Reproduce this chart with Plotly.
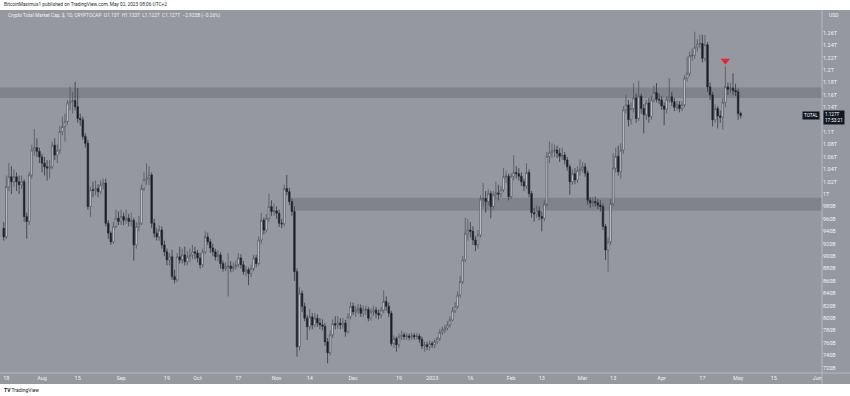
import plotly.graph_objects as go
import pandas as pd

# ---------------- data (values in billions USD) ----------------
start_date = "2022-07-17"
first_open = 945

closes = [
    931, 1012, 1028, 1020, 1028, 1020, 1015, 1020, 964, 956,
    1031, 1071, 1075, 1069, 1060, 1050, 1044, 1042, 1044, 1079,
    1063, 1071, 1101, 1109, 1117, 1147, 1149, 1151, 1141, 1122,
    1120, 1093, 1082, 980, 1007, 1006, 1009, 1004, 1015, 1018,
    953, 937, 923, 948, 961, 956, 964, 958, 961, 956,
    958, 918, 948, 953, 1009, 1023, 1026, 1031, 953, 937,
    931, 942, 918, 907, 894, 899, 867, 862, 899, 894,
    902, 891, 899, 902, 907, 905, 897, 886, 907, 931,
    923, 913, 907, 899, 902, 888, 880, 883, 884, 880,
    883, 886, 897, 886, 875, 878, 872, 880, 897, 888,
    926, 958, 942, 961, 980, 972, 973, 969, 953, 952,
    1009, 1004, 988, 972, 875, 754, 840, 819, 800, 786,
    802, 789, 800, 792, 789, 787, 762, 744, 773, 791,
    789, 792, 789, 792, 778, 802, 819, 810, 813, 816,
    808, 813, 814, 800, 810, 813, 808, 805, 813, 827,
    819, 808, 759, 767, 757, 770, 773, 770, 771, 769,
    772, 770, 771, 766, 755, 757, 754, 759, 757, 762,
    767, 777, 781, 784, 789, 797, 812, 819, 837, 859,
    894, 937, 942, 940, 926, 918, 934, 992, 993, 988,
    1001, 980, 999, 1002, 1000, 1007, 1028, 1029, 996, 1029,
    1035, 1033, 1029, 1020, 1013, 1035, 1001, 970, 968, 973,
    964, 961, 984, 1061, 1067, 1070, 1071, 1066, 1061, 1063,
    1055, 1044, 1020, 1033, 1023, 1038, 1040, 1044, 1034, 990,
    986, 988, 986, 982, 980, 948, 910, 923, 985, 1042,
    1061, 1036, 1071, 1136, 1144, 1120, 1138, 1155, 1122, 1158,
    1138, 1128, 1147, 1125, 1152, 1164, 1153, 1152, 1142, 1137,
    1153, 1157, 1149, 1140, 1144, 1138, 1144, 1187, 1195, 1223,
    1224, 1237, 1242, 1243, 1219, 1241, 1173, 1160, 1120, 1138,
    1126, 1124, 1148, 1173, 1169, 1171, 1167, 1165, 1130, 1127,
]

highs = [
    955, 1030, 1050, 1045, 1040, 1035, 1030, 1030, 1024, 970,
    1036, 1080, 1105, 1090, 1075, 1065, 1060, 1055, 1055, 1085,
    1090, 1080, 1110, 1125, 1130, 1152, 1173, 1165, 1181, 1171,
    1130, 1125, 1098, 1088, 1012, 1020, 1022, 1016, 1022, 1025,
    1025, 958, 940, 955, 975, 972, 975, 970, 975, 968,
    970, 962, 955, 965, 1015, 1035, 1050, 1045, 1035, 960,
    945, 950, 948, 925, 912, 905, 910, 878, 905, 915,
    912, 915, 908, 912, 918, 915, 910, 905, 912, 940,
    938, 928, 920, 912, 910, 906, 893, 890, 905, 892,
    890, 893, 905, 903, 892, 884, 882, 886, 902, 902,
    932, 970, 962, 968, 1001, 990, 985, 980, 975, 960,
    1015, 1031, 1010, 993, 980, 880, 850, 845, 825, 805,
    815, 808, 808, 806, 800, 798, 792, 768, 780, 798,
    803, 803, 800, 800, 797, 808, 826, 825, 820, 823,
    822, 820, 820, 818, 816, 820, 818, 814, 818, 845,
    835, 825, 812, 772, 770, 775, 780, 777, 776, 775,
    777, 776, 776, 775, 770, 762, 762, 764, 763, 766,
    770, 782, 786, 789, 795, 803, 818, 826, 843, 868,
    900, 962, 960, 955, 948, 932, 942, 998, 1018, 1005,
    1008, 1005, 1005, 1020, 1015, 1013, 1042, 1038, 1033, 1034,
    1063, 1045, 1042, 1035, 1025, 1050, 1040, 1005, 978, 982,
    980, 972, 990, 1068, 1085, 1082, 1080, 1078, 1074, 1075,
    1068, 1060, 1048, 1040, 1042, 1045, 1056, 1052, 1050, 1038,
    995, 995, 996, 992, 990, 985, 952, 930, 992, 1066,
    1075, 1078, 1082, 1142, 1160, 1152, 1148, 1179, 1162, 1183,
    1162, 1145, 1152, 1155, 1158, 1175, 1179, 1162, 1158, 1148,
    1158, 1187, 1165, 1155, 1150, 1150, 1150, 1192, 1222, 1230,
    1235, 1262, 1250, 1257, 1257, 1257, 1245, 1180, 1165, 1145,
    1142, 1135, 1155, 1206, 1180, 1180, 1195, 1178, 1170, 1133,
]

lows = [
    925, 928, 1005, 1000, 1012, 1005, 1000, 1008, 955, 928,
    950, 1025, 1062, 1060, 1050, 1035, 1030, 1022, 1025, 1040,
    1055, 1050, 1065, 1095, 1085, 1112, 1135, 1130, 1135, 1115,
    1110, 1088, 1075, 975, 963, 995, 998, 995, 1000, 1008,
    948, 928, 918, 920, 945, 950, 950, 950, 952, 948,
    948, 893, 912, 940, 950, 1005, 1015, 1015, 945, 930,
    925, 925, 912, 900, 885, 885, 862, 856, 858, 888,
    888, 885, 885, 890, 895, 895, 890, 880, 882, 903,
    918, 905, 900, 893, 892, 880, 875, 876, 835, 874,
    875, 878, 882, 880, 870, 868, 853, 866, 876, 882,
    885, 920, 935, 938, 955, 965, 965, 960, 947, 945,
    948, 998, 982, 965, 860, 738, 748, 810, 795, 765,
    780, 782, 785, 786, 782, 780, 755, 727, 740, 768,
    782, 783, 782, 783, 770, 775, 798, 805, 802, 806,
    802, 802, 805, 795, 796, 804, 800, 798, 800, 808,
    812, 802, 755, 752, 746, 752, 765, 765, 765, 764,
    765, 765, 766, 760, 750, 746, 748, 748, 752, 752,
    758, 763, 773, 776, 780, 785, 795, 808, 815, 833,
    855, 890, 925, 930, 918, 908, 912, 930, 980, 970,
    982, 961, 975, 992, 990, 995, 1003, 1018, 990, 992,
    1022, 1025, 1022, 1013, 1005, 1008, 995, 962, 956, 962,
    958, 940, 956, 980, 1050, 1058, 1060, 1058, 1052, 1055,
    1048, 1038, 999, 1015, 1016, 1018, 1030, 1035, 1028, 983,
    978, 980, 980, 976, 972, 942, 894, 875, 918, 980,
    1035, 1030, 1025, 1065, 1130, 1109, 1112, 1132, 1115, 1118,
    1130, 1098, 1120, 1115, 1120, 1148, 1148, 1145, 1136, 1111,
    1130, 1148, 1142, 1134, 1135, 1132, 1134, 1140, 1182, 1190,
    1215, 1218, 1230, 1235, 1212, 1214, 1165, 1152, 1109, 1115,
    1106, 1115, 1104, 1140, 1160, 1163, 1160, 1158, 1120, 1122,
]

# daily crypto candles open at the previous close
opens = [first_open] + closes[:-1]
dates = pd.date_range(start_date, periods=len(closes), freq="D")

# horizontal zones (billions)
upper_zone = (1155, 1172)
lower_zone = (973, 994)
lower_zone_start = "2022-11-07"

# signal marker
signal_date = "2023-04-26"
signal_value = 1215

x_tick_dates = ["2022-07-18", "2022-08-01", "2022-08-15", "2022-09-01", "2022-09-19",
                "2022-10-01", "2022-10-17", "2022-11-01", "2022-11-14", "2022-12-01",
                "2022-12-19", "2023-01-01", "2023-01-16", "2023-02-01", "2023-02-13",
                "2023-03-01", "2023-03-13", "2023-04-01", "2023-04-17", "2023-05-01",
                "2023-05-15", "2023-06-01"]
x_tick_text = ["18", "Aug", "15", "Sep", "19", "Oct", "17", "Nov", "14", "Dec", "19",
               "2023", "16", "Feb", "13", "Mar", "13", "Apr", "17", "May", "15", "Jun"]

y_tick_vals = [720, 740, 760, 780, 800, 820, 840, 860, 880, 900, 920, 940, 960, 980,
               1000, 1020, 1040, 1060, 1080, 1100, 1140, 1160, 1180, 1200, 1220, 1240, 1260]
y_tick_text = ["720B", "740B", "760B", "780B", "800B", "820B", "840B", "860B", "880B",
               "900B", "920B", "940B", "960B", "980B", "1T", "1.02T", "1.04T", "1.06T",
               "1.08T", "1.1T", "1.14T", "1.16T", "1.18T", "1.2T", "1.22T", "1.24T", "1.26T"]

x_range = ["2022-07-15 12:43", "2023-06-02 21:36"]
y_range = [711.5, 1297]

# ---------------- style ----------------
BG = "#95989f"
BAND = "#80838a"
SEP = "#b6b8bf"
TXT = "#f0f1f4"
DARK = "#131722"
FONT = "Roboto, Liberation Sans, sans-serif"

fig = go.Figure()

fig.add_trace(go.Candlestick(
    x=dates, open=opens, high=highs, low=lows, close=closes,
    increasing=dict(fillcolor="#eceef1", line=dict(color="#4a4d55", width=0.7)),
    decreasing=dict(fillcolor=DARK, line=dict(color="#262930", width=0.7)),
    whiskerwidth=0, showlegend=False, hoverinfo="skip",
))

fig.add_trace(go.Scatter(
    x=[signal_date], y=[signal_value], mode="markers",
    marker=dict(symbol="triangle-down", size=8, color="#f0212e", line=dict(width=0)),
    showlegend=False, hoverinfo="skip",
))

shapes = [
    dict(type="rect", xref="paper", yref="paper", x0=0, x1=1.04, y0=-0.0303, y1=1,
         fillcolor=BG, line=dict(width=0), layer="below"),
    dict(type="rect", xref="x", yref="y", x0=x_range[0], x1=x_range[1],
         y0=upper_zone[0], y1=upper_zone[1], fillcolor=BAND, line=dict(width=0), layer="below"),
    dict(type="rect", xref="x", yref="y", x0=lower_zone_start, x1=x_range[1],
         y0=lower_zone[0], y1=lower_zone[1], fillcolor=BAND, line=dict(width=0), layer="below"),
    dict(type="line", xref="paper", yref="paper", x0=0, x1=1.04, y0=0, y1=0,
         line=dict(color=SEP, width=1)),
    dict(type="line", xref="paper", yref="paper", x0=1, x1=1, y0=-0.0303, y1=1,
         line=dict(color=SEP, width=1)),
]

annotations = [
    dict(text="BitcoinMaximus1 published on TradingView.com, May 02, 2023 08:06 UTC+2",
         xref="paper", yref="paper", x=0.003, y=1.0138, xanchor="left", yanchor="middle",
         showarrow=False, font=dict(size=4.8, color="#2a2e39", family=FONT)),
    dict(text="Crypto Total Market Cap, $, 1D, CRYPTOCAP  O1.13T  H1.133T  L1.122T  C1.127T  −2.925B (−0.26%)",
         xref="paper", yref="paper", x=0.007, y=0.9835, xanchor="left", yanchor="middle",
         showarrow=False, font=dict(size=4.8, color=TXT, family=FONT)),
    dict(text="USD", xref="paper", yref="paper", x=1.006, y=0.986, xanchor="left", yanchor="middle",
         showarrow=False, font=dict(size=5, color=TXT, family=FONT)),
    dict(text="TOTAL", xref="paper", yref="y", x=0.998, y=closes[-1], xanchor="right", yanchor="middle",
         showarrow=False, bgcolor=DARK, borderpad=1, font=dict(size=4.6, color="#ffffff", family=FONT)),
    dict(text="1.127T<br>17:53:21", xref="paper", yref="y", x=1.001, y=closes[-1] - 4,
         xanchor="left", yanchor="middle", align="left",
         showarrow=False, bgcolor=DARK, borderpad=1, font=dict(size=4.6, color="#ffffff", family=FONT)),
    dict(text="<b>TV</b> TradingView", xref="paper", yref="paper", x=0.003, y=-0.047,
         xanchor="left", yanchor="middle", showarrow=False,
         font=dict(size=5, color="#131722", family=FONT)),
]

fig.update_layout(
    width=850, height=396,
    margin=dict(l=0, r=28, t=10, b=23),
    paper_bgcolor="white", plot_bgcolor=BG,
    boxgap=0.15,
    showlegend=False,
    shapes=shapes, annotations=annotations,
    xaxis=dict(type="date", range=x_range, tickvals=x_tick_dates, ticktext=x_tick_text,
               showgrid=False, zeroline=False, ticks="", showline=False,
               rangeslider=dict(visible=False),
               tickfont=dict(size=5.5, color=TXT, family=FONT)),
    yaxis=dict(side="right", range=y_range, tickvals=y_tick_vals, ticktext=y_tick_text,
               showgrid=False, zeroline=False, ticks="", showline=False,
               tickfont=dict(size=5.5, color=TXT, family=FONT)),
)

fig.write_html("out.html")
